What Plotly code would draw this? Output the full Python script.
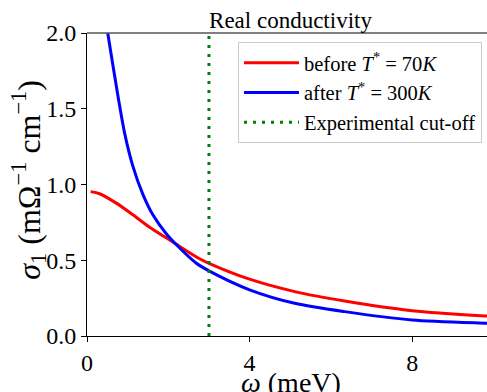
import plotly.graph_objects as go

# Data
red_w = [0.09, 0.31, 0.72, 1.13, 1.54, 1.95, 2.2, 2.77, 3.0, 4.0, 5.11, 6.34, 8.0, 9.84, 10.0]
red_s = [0.953, 0.939, 0.877, 0.80, 0.718, 0.648, 0.605, 0.51, 0.48, 0.375, 0.293, 0.231, 0.167, 0.132, 0.130]

blue_w = [0.45, 0.51, 0.776, 0.924, 1.13, 1.375, 1.62, 1.95, 2.2, 2.69, 3.0, 4.0, 5.11, 6.34, 8.0, 9.84, 10.0]
blue_s = [2.1, 2.0, 1.561, 1.341, 1.12, 0.935, 0.80, 0.675, 0.602, 0.48, 0.43, 0.305, 0.216, 0.161, 0.106, 0.084, 0.082]

cutoff_w = [3.0, 3.0]
cutoff_s = [0.0, 2.0]

x_ticks = [0, 4, 8]
y_ticks = [0.0, 0.5, 1.0, 1.5, 2.0]
y_tick_text = ["0.0", "0.5", "1.0", "1.5", "2.0"]

FONT = "Liberation Serif, Times New Roman, serif"

fig = go.Figure()
fig.add_trace(go.Scatter(x=red_w, y=red_s, mode="lines",
                         line=dict(color="#ff0000", width=3, shape="spline", smoothing=0.8),
                         name="before <i>T</i><sup>*</sup> = 70<i>K</i>"))
fig.add_trace(go.Scatter(x=blue_w, y=blue_s, mode="lines",
                         line=dict(color="#0000ff", width=3, shape="spline", smoothing=0.8),
                         name="after <i>T</i><sup>*</sup> = 300<i>K</i>"))
fig.add_trace(go.Scatter(x=cutoff_w, y=cutoff_s, mode="lines",
                         line=dict(color="#008000", width=3, dash="3px,6px"),
                         name="Experimental cut-off"))

fig.update_layout(
    width=487, height=392,
    margin=dict(l=87, r=0, t=33, b=56, autoexpand=False),
    paper_bgcolor="white", plot_bgcolor="white",
    font=dict(family=FONT, color="black", size=20),
    showlegend=True,
    title=dict(text="Real conductivity", x=290.5 / 487, xanchor="center", xref="container",
               y=1 - 20 / 392, yanchor="middle", yref="container",
               font=dict(size=23, family=FONT, color="black")),
    legend=dict(x=(238 - 87) / 400, y=1 - (42 - 33) / 302.5, xanchor="left", yanchor="top",
                bgcolor="rgba(255,255,255,0.8)", bordercolor="#cccccc", borderwidth=1,
                font=dict(size=20.5, family=FONT, color="black"), tracegroupgap=0, itemwidth=55),
    xaxis=dict(range=[0, 9.84], tickvals=x_ticks, ticktext=[str(v) for v in x_ticks],
               showgrid=False, zeroline=False, showline=True, linecolor="black", linewidth=1,
               ticks="outside", ticklen=5, tickcolor="black", automargin=False,
               tickfont=dict(size=24, family=FONT, color="black")),
    yaxis=dict(range=[0, 2.0], tickvals=y_ticks, ticktext=y_tick_text,
               showgrid=False, zeroline=False, showline=True, linecolor="black", linewidth=1,
               ticks="outside", ticklen=5, tickcolor="black", automargin=False,
               tickfont=dict(size=24, family=FONT, color="black")),
)
fig.add_shape(type="line", xref="paper", yref="paper", x0=0, x1=1, y0=1, y1=1,
              line=dict(color="#555555", width=1.5))
fig.add_annotation(text="<i>ω</i> (meV)", xref="paper", yref="paper",
                   x=(290.5 - 87) / 400, y=-(382 - 336) / 302.5, xanchor="center", yanchor="middle",
                   showarrow=False, font=dict(size=28, family=FONT, color="black"))
fig.add_annotation(text="<i>σ</i><sub>1</sub> (mΩ<sup>−1</sup> cm<sup>−1</sup>)", xref="paper", yref="paper",
                   x=(29 - 87) / 400, y=(336 - 180) / 302.5, xanchor="center", yanchor="middle", textangle=-90,
                   showarrow=False, font=dict(size=32, family=FONT, color="black"))

fig.write_html("out.html", config={"displayModeBar": False},
               post_script="document.body.style.margin='0';document.body.style.padding='0';")
